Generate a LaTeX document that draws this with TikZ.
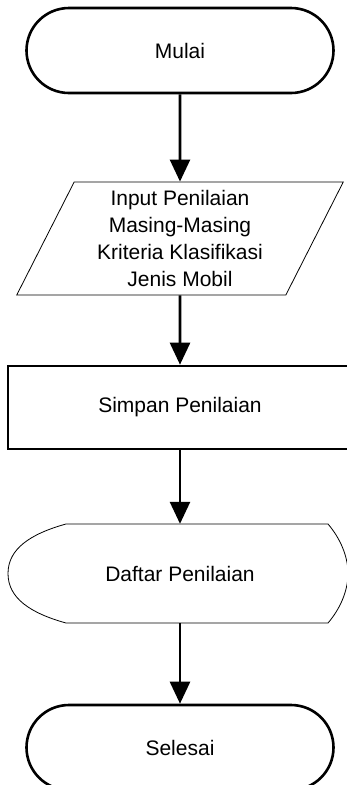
\documentclass[tikz,border=0pt]{standalone}
\usepackage{fontspec}
\setmainfont{Liberation Sans}
\usetikzlibrary{shapes.geometric,shapes.misc,arrows.meta}

\tikzset{
	terminal/.style={rounded rectangle, draw, line width=2.6pt, minimum width=307pt, minimum height=85pt, inner sep=0pt},
	inputbox/.style={trapezium, draw, line width=0.8pt, trapezium stretches=true, trapezium left angle=65, trapezium right angle=115, minimum width=327pt, minimum height=113pt, inner sep=0pt, align=center},
	process/.style={rectangle, draw, line width=2.6pt, minimum width=344pt, minimum height=83pt},
	displaybox/.style={rectangle, minimum width=262pt, minimum height=99pt},
	flow/.style={line width=2.6pt, -{Triangle[width=20pt,length=22pt]}}
}

\begin{document}
\begin{tikzpicture}[x=1pt, y=-1pt, font=\fontsize{21}{27}\selectfont]
	\useasboundingbox (0,0) rectangle (347,785);
	\node[terminal]   (mulai)   at (180,50.5)  {Mulai};
	\node[inputbox]   (input)   at (180,238.5) {Input Penilaian\\Masing-Masing\\Kriteria Klasifikasi\\Jenis Mobil};
	\node[process]    (simpan)  at (180,407.5) {Simpan Penilaian};
	\node[displaybox] (daftar)  at (180,573.5) {Daftar Penilaian};
	\node[terminal]   (selesai) at (180,747.5) {Selesai};
	% display shape
	\draw[line width=0.8pt] (66,524) -- (328,524)
		.. controls (340,538) and (348,556) .. (348,573.5)
		.. controls (348,591) and (340,609) .. (328,623)
		-- (66,623)
		.. controls (30,613) and (8,598) .. (8,573.5)
		.. controls (8,549) and (30,534) .. cycle;
	\path[flow]
	(mulai) edge (input)
	(input) edge (simpan)
	(simpan) edge (daftar)
	(daftar) edge (selesai);
\end{tikzpicture}
\end{document}
